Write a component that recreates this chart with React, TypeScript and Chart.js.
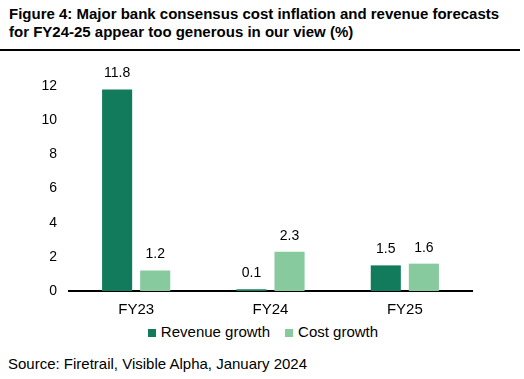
import React, { useEffect, useRef } from "react";
import { Chart, registerables } from "chart.js";

Chart.register(...registerables);

const categories = ["FY23", "FY24", "FY25"];
const revenueGrowth = [11.8, 0.1, 1.5];
const costGrowth = [1.2, 2.3, 1.6];
const seriesNames = ["Revenue growth", "Cost growth"];
const yMin = 0;
const yMax = 12;
const yStep = 2;

const titleLines = [
  "Figure 4: Major bank consensus cost inflation and revenue forecasts",
  "for FY24-25 appear too generous in our view (%)",
];
const sourceText = "Source: Firetrail, Visible Alpha, January 2024";

const FONT = "'Liberation Sans', Arial, Helvetica, sans-serif";
const COLORS = ["#127B5B", "#86CA9D"];

const valueLabels = {
  id: "valueLabels",
  afterDatasetsDraw(chart: any) {
    const ctx = chart.ctx;
    ctx.save();
    ctx.font = `14px ${FONT}`;
    ctx.fillStyle = "#000";
    ctx.textAlign = "center";
    ctx.textBaseline = "bottom";
    chart.data.datasets.forEach((ds: any, i: number) => {
      const meta = chart.getDatasetMeta(i);
      meta.data.forEach((el: any, j: number) => {
        ctx.fillText(Number(ds.data[j]).toFixed(1), el.x, el.y - 9);
      });
    });
    ctx.restore();
  },
};

export default function App() {
  const ref = useRef<HTMLCanvasElement>(null);
  useEffect(() => {
    document.body.style.margin = "0";
    const chart = new Chart(ref.current!, {
      type: "bar",
      data: {
        labels: categories,
        datasets: [
          { label: seriesNames[0], data: revenueGrowth, backgroundColor: COLORS[0], barPercentage: 0.79, categoryPercentage: 0.567 },
          { label: seriesNames[1], data: costGrowth, backgroundColor: COLORS[1], barPercentage: 0.79, categoryPercentage: 0.567 },
        ],
      },
      options: {
        responsive: false,
        animation: false,
        layout: { padding: { top: 31, right: 52, bottom: 0, left: 0 } },
        plugins: {
          title: { display: false },
          tooltip: { enabled: false },
          legend: { display: false },
        },
        scales: {
          x: {
            grid: { display: false, drawTicks: false },
            border: { display: true, color: "#000", width: 2 },
            ticks: { color: "#000", padding: 10, font: { family: FONT, size: 15 } },
            afterFit(scale: any) {
              scale.height = 30;
            },
          },
          y: {
            min: yMin,
            max: yMax,
            grid: { display: false, drawTicks: false },
            border: { display: false },
            ticks: { stepSize: yStep, color: "#000", padding: 12, font: { family: FONT, size: 14 } },
            afterFit(scale: any) {
              scale.width = 69;
            },
          },
        },
      },
      plugins: [valueLabels],
    });
    return () => chart.destroy();
  }, []);

  return (
    <div style={{ position: "relative", width: 524, height: 379, fontFamily: FONT, color: "#000", background: "#fff" }}>
      <div style={{ position: "absolute", left: 9, top: 5, fontSize: 15, fontWeight: "bold", lineHeight: "18px", whiteSpace: "nowrap" }}>
        {titleLines.map((l) => (
          <div key={l}>{l}</div>
        ))}
      </div>
      <div style={{ position: "absolute", left: 0, top: 49, width: 520, height: 2, background: "#000" }} />
      <canvas ref={ref} width={524} height={266} style={{ position: "absolute", left: 0, top: 55, width: 524, height: 266 }} />
      <div
        style={{
          position: "absolute",
          left: 0,
          top: 323,
          width: 526,
          display: "flex",
          justifyContent: "center",
          alignItems: "center",
          fontSize: 15,
          lineHeight: "18px",
          whiteSpace: "nowrap",
        }}
      >
        {seriesNames.map((name, i) => (
          <div key={name} style={{ display: "flex", alignItems: "center", marginLeft: i === 0 ? 0 : 15 }}>
            <span style={{ display: "inline-block", width: 8, height: 8, background: COLORS[i], marginRight: 5, marginTop: 1 }} />
            <span>{name}</span>
          </div>
        ))}
      </div>
      <div style={{ position: "absolute", left: 8, top: 355, fontSize: 15, lineHeight: "18px", whiteSpace: "nowrap" }}>{sourceText}</div>
    </div>
  );
}
